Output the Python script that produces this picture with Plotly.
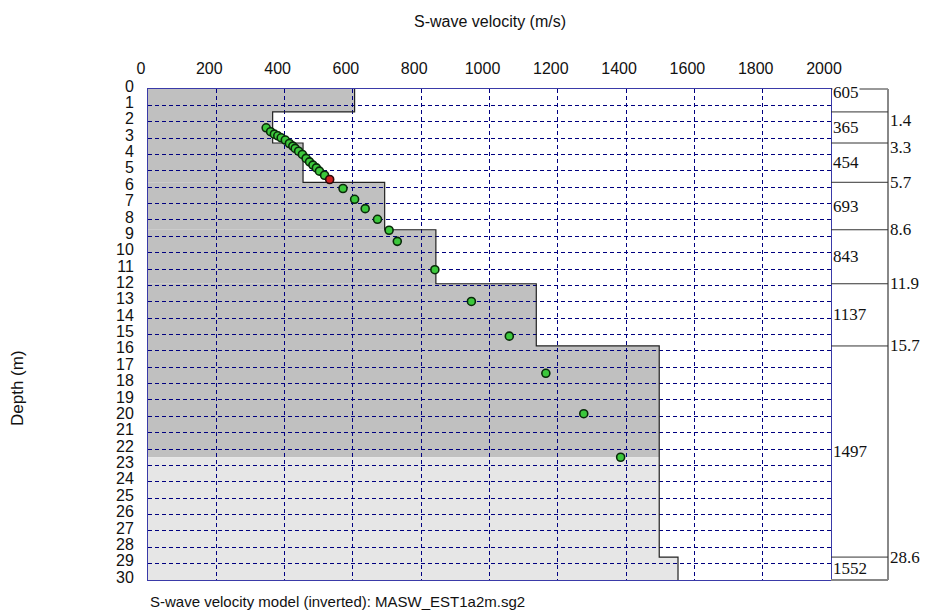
import plotly.graph_objects as go

# Layered S-wave velocity model: top depth of each layer (m) and its velocity (m/s)
layer_top = [0.0, 1.4, 3.3, 5.7, 8.6, 11.9, 15.7, 28.6]
layer_vs = [605, 365, 454, 693, 843, 1137, 1497, 1552]
model_bottom = 30.0

# Pseudo-depth points of the dispersion curve (velocity m/s, depth m)
point_vs = [346, 359, 370, 380, 390, 402, 414, 424, 431, 441, 452, 463, 473, 483,
            493, 502, 517, 571, 605, 636, 672, 706, 730, 840, 947, 1058, 1165,
            1276, 1384]
point_depth = [2.37, 2.61, 2.76, 2.86, 2.98, 3.12, 3.33, 3.49, 3.63, 3.80, 4.00,
               4.24, 4.45, 4.65, 4.82, 5.02, 5.27, 6.08, 6.74, 7.31, 7.96, 8.63,
               9.31, 11.04, 12.98, 15.10, 17.37, 19.84, 22.50]
# Flagged point
flag_vs = [532]
flag_depth = [5.53]

velocity_ticks = list(range(0, 2001, 200))
depth_ticks = list(range(0, 31))

x_title = "S-wave velocity (m/s)"
y_title = "Depth (m)"
caption = "S-wave velocity model (inverted): MASW_EST1a2m.sg2"

# ---- page geometry ----
W, H = 925, 613
ML, MR, MT, MB = 148, 94, 89, 33
plot_w = W - ML - MR
plot_h = H - MT - MB
px_per_m = plot_h / (depth_ticks[-1] - depth_ticks[0])

DARK = "#c0c0c0"
LIGHT = "#e6e6e6"
GRID = "#000080"
FRAME = "#3a3aa8"
SANS = "Liberation Sans, Arial, sans-serif"
SERIF = "Liberation Serif, Times New Roman, serif"

layer_bot = layer_top[1:] + [model_bottom]
d_max = max(point_depth + flag_depth)  # deepest resolved point

shapes = []
# Filled velocity profile: darker above the deepest point, lighter below it
for t, b, v in zip(layer_top, layer_bot, layer_vs):
    if t < d_max:
        shapes.append(dict(type="rect", xref="x", yref="y", x0=0, x1=v,
                           y0=t, y1=min(b, d_max), fillcolor=DARK,
                           line_width=0, layer="below"))
    if b > d_max:
        shapes.append(dict(type="rect", xref="x", yref="y", x0=0, x1=v,
                           y0=max(t, d_max), y1=b, fillcolor=LIGHT,
                           line_width=0, layer="below"))

# Side box listing layer velocities and interface depths
box_x1 = 1 + 57 / plot_w
shapes.append(dict(type="line", xref="paper", yref="paper", x0=1, x1=box_x1,
                   y0=1, y1=1, line=dict(color="#333333", width=1)))
shapes.append(dict(type="line", xref="paper", yref="paper", x0=box_x1, x1=box_x1,
                   y0=0, y1=1, line=dict(color="#888888", width=2)))
shapes.append(dict(type="line", xref="paper", yref="paper", x0=1, x1=box_x1,
                   y0=0, y1=0, line=dict(color="#888888", width=2)))
for t in layer_top[1:]:
    shapes.append(dict(type="line", xref="paper", yref="y", x0=1, x1=box_x1,
                       y0=t, y1=t, line=dict(color="#333333", width=1)))

annotations = []
for i, (t, b, v) in enumerate(zip(layer_top, layer_bot, layer_vs)):
    if i == 0:
        ypos, ysh, bg = t, -3, "white"
    else:
        ypos, ysh, bg = (t + b) / 2, 0, "rgba(0,0,0,0)"
    annotations.append(dict(text=str(v), xref="paper", yref="y", x=1, y=ypos,
                            xanchor="left", yanchor="middle", xshift=1, yshift=ysh,
                            showarrow=False, bgcolor=bg, borderpad=0,
                            font=dict(family=SERIF, size=17, color="#111111")))

# Interface depth labels, nudged apart where they would crowd
prev_px = None
for t in layer_top[1:]:
    px = t * px_per_m
    want = px
    if prev_px is None:
        want = max(want, 32)
    else:
        want = max(want, prev_px + 26)
    prev_px = want
    annotations.append(dict(text=f"{t:g}", xref="paper", yref="y", x=box_x1, y=t,
                            xanchor="left", yanchor="middle", xshift=0,
                            yshift=-(want - px), showarrow=False,
                            font=dict(family=SERIF, size=17, color="#111111")))

annotations.append(dict(text=x_title, xref="paper", yref="paper",
                        x=(490 - ML) / plot_w, y=1 + 68 / plot_h,
                        xanchor="center", yanchor="middle", showarrow=False,
                        font=dict(family=SANS, size=16, color="#111111")))
annotations.append(dict(text=y_title, xref="paper", yref="paper",
                        x=(17 - ML) / plot_w, y=(580 - 388) / plot_h,
                        xanchor="center", yanchor="middle", textangle=-90,
                        showarrow=False,
                        font=dict(family=SANS, size=17, color="#111111")))
annotations.append(dict(text=caption, xref="paper", yref="paper",
                        x=0, y=-21 / plot_h, xanchor="left", yanchor="middle",
                        showarrow=False,
                        font=dict(family=SANS, size=15, color="#111111")))

fig = go.Figure()

# Outline of the stepped profile
step_x, step_y = [], []
for t, b, v in zip(layer_top, layer_bot, layer_vs):
    step_x += [v, v]
    step_y += [t, b]
fig.add_trace(go.Scatter(x=step_x, y=step_y, mode="lines",
                         line=dict(color="#222222", width=1.2),
                         hoverinfo="skip", showlegend=False))

fig.add_trace(go.Scatter(x=point_vs, y=point_depth, mode="markers",
                         marker=dict(size=8, color="#3cc83c",
                                     line=dict(color="#0a2a0a", width=1.6)),
                         showlegend=False))
fig.add_trace(go.Scatter(x=flag_vs, y=flag_depth, mode="markers",
                         marker=dict(size=8, color="#d02020",
                                     line=dict(color="#2a0a0a", width=1.6)),
                         showlegend=False))

fig.update_layout(
    width=W, height=H,
    margin=dict(l=ML, r=MR, t=MT, b=MB, pad=0),
    paper_bgcolor="white", plot_bgcolor="white",
    shapes=shapes, annotations=annotations,
    showlegend=False,
)
fig.update_xaxes(
    side="top", range=[velocity_ticks[0], velocity_ticks[-1]],
    tickmode="array", tickvals=velocity_ticks,
    ticktext=[str(v) for v in velocity_ticks],
    ticks="outside", ticklen=8, tickcolor="rgba(0,0,0,0)",
    ticklabelshift=-7,
    tickfont=dict(family=SANS, size=16, color="#111111"),
    showgrid=True, gridcolor=GRID, gridwidth=1, griddash="4px,3px",
    zeroline=False, showline=True, linecolor=FRAME, linewidth=1, mirror=True,
)
fig.update_yaxes(
    range=[depth_ticks[-1], depth_ticks[0]],
    tickmode="array", tickvals=depth_ticks,
    ticktext=[str(d) for d in depth_ticks],
    ticks="outside", ticklen=10, tickcolor="rgba(0,0,0,0)",
    ticklabelshift=3,
    tickfont=dict(family=SANS, size=16, color="#111111"),
    showgrid=True, gridcolor=GRID, gridwidth=1, griddash="4px,3px",
    zeroline=False, showline=True, linecolor=FRAME, linewidth=1, mirror=True,
)

fig.write_html("out.html")
